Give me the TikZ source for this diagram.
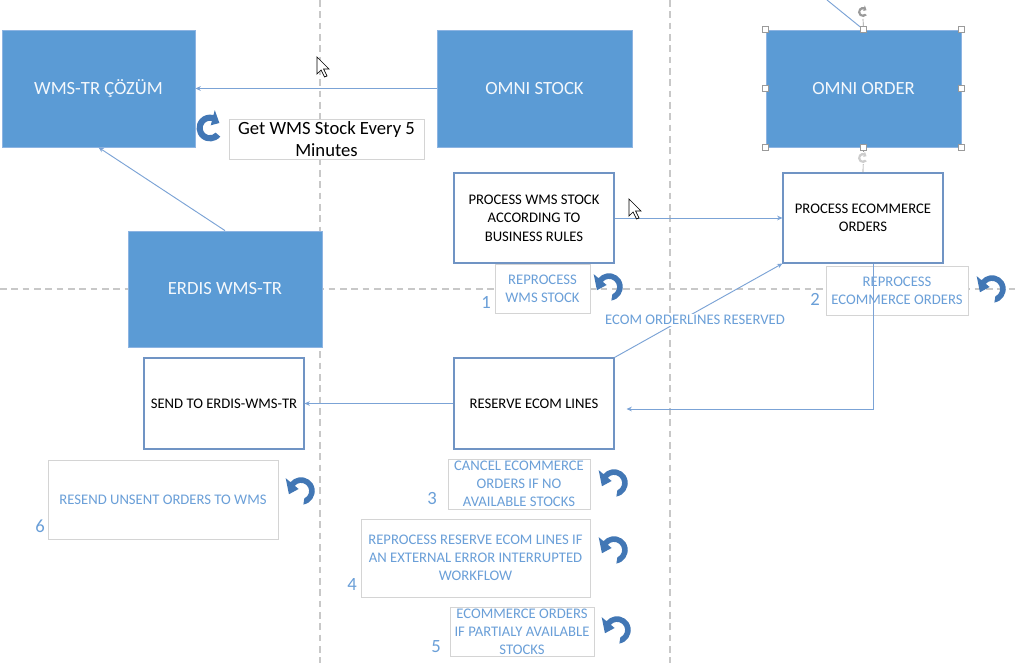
\documentclass[tikz,border=0pt]{standalone}
\usepackage{fontspec}
\setmainfont{Carlito}
\usetikzlibrary{arrows.meta,calc}
\definecolor{boxblue}{HTML}{5B9BD5}
\definecolor{boxedge}{HTML}{8DB4E2}
\definecolor{boxtext}{HTML}{F4F8FC}
\definecolor{procedge}{HTML}{7094C4}
\definecolor{lbledge}{HTML}{D4D4D4}
\definecolor{lblblue}{HTML}{6A9FD8}
\definecolor{linkblue}{HTML}{7BA3D6}
\definecolor{iconblue}{HTML}{4277B5}
\definecolor{guidegray}{HTML}{C8C8C8}
\definecolor{handlegray}{HTML}{9A9A9A}
\begin{document}
\begin{tikzpicture}[x=0.75pt,y=-0.75pt,
  fillbox/.style={draw=boxedge, fill=boxblue, text=boxtext, inner sep=0pt, line width=0.6pt, font=\fontsize{14}{16.8}\selectfont},
  procbox/.style={draw=procedge, fill=white, text=black, inner sep=0pt, line width=0.8pt, align=center, font=\fontsize{11}{13.8}\selectfont},
  lblbox/.style={draw=lbledge, fill=white, text=lblblue, inner sep=0pt, line width=0.7pt, align=center, font=\fontsize{11}{13.5}\selectfont},
  numtxt/.style={text=lblblue, inner sep=0pt, font=\fontsize{14}{16}\selectfont},
  link/.style={draw=linkblue, line width=0.7pt},
  arr/.style={-{Stealth[length=4pt,width=3.5pt]}},
  guide/.style={draw=guidegray, line width=1pt, dash pattern=on 5pt off 3.5pt},
  handlebox/.style={draw=handlegray, fill=white, minimum size=4.5pt, inner sep=0pt, line width=0.5pt},
  undo/.pic={\begin{scope}[yscale=-1,scale=1.25]
    \fill[iconblue] (-80:11) arc[start angle=-80,end angle=140,radius=11] -- (140:16) -- (195:10) -- (140:2.5) -- (140:6.5) arc[start angle=140,end angle=-66,radius=6.5] -- cycle;
  \end{scope}},
  cyc/.pic={\begin{scope}[yscale=-1]
    \fill (-40:12) arc[start angle=-40,end angle=-285,radius=12] -- (-285:16.5) -- (-332:9.5) -- (-285:2.5) -- (-285:6.5) arc[start angle=-285,end angle=-40,radius=6.5] -- cycle;
  \end{scope}}
]
\useasboundingbox (0,0) rectangle (1017,663);
\fill[white] (0,0) rectangle (1017,663);

% guides
\draw[guide] (320,0) -- (320,663);
\draw[guide] (670,0) -- (670,663);
\draw[guide] (0,289) -- (1017,289);

% main blue boxes
\node[fillbox, minimum width=144.75pt, minimum height=87.75pt] (wms) at (98.5,88.5) {WMS-TR ÇÖZÜM};
\node[fillbox, minimum width=146.25pt, minimum height=87.75pt] (ostock) at (534.5,88.5) {OMNI STOCK};
\node[fillbox, minimum width=146.25pt, minimum height=87.75pt] (oorder) at (863.5,88.5) {OMNI ORDER};
\node[fillbox, minimum width=145.5pt, minimum height=87pt] (erdis) at (225,289) {ERDIS WMS-TR};

% get wms stock note
\node[draw=lbledge, fill=white, text=black, inner sep=0pt, line width=0.7pt, align=center,
      font=\fontsize{14}{16.5}\selectfont, minimum width=146.25pt, minimum height=30pt] (getwms) at (326.5,139) {Get WMS Stock Every 5\\Minutes};
\pic[iconblue, scale=1.12] at (210,128) {cyc};

% process boxes
\node[procbox, minimum width=120pt, minimum height=67.5pt] (pwms) at (534,218) {PROCESS WMS STOCK\\ACCORDING TO\\BUSINESS RULES};
\node[procbox, minimum width=120pt, minimum height=67.5pt] (pecom) at (863,218) {PROCESS ECOMMERCE\\ORDERS};
\node[procbox, minimum width=120pt, minimum height=68.25pt] (reserve) at (534,403.5) {RESERVE ECOM LINES};
\node[procbox, minimum width=120pt, minimum height=68.25pt] (send) at (224,403.5) {SEND TO ERDIS-WMS-TR};

% label boxes
\node[lblbox, minimum width=71.25pt, minimum height=36.75pt] (r1) at (542.5,288.5) {REPROCESS\\WMS STOCK};
\node[lblbox, minimum width=106.5pt, minimum height=36.75pt] (r2) at (897,290.5) {REPROCESS\\ECOMMERCE ORDERS};
\node[lblbox, minimum width=106.5pt, minimum height=37.5pt] (r3) at (519,484) {CANCEL ECOMMERCE\\ORDERS IF NO\\AVAILABLE STOCKS};
\node[lblbox, minimum width=171.75pt, minimum height=58.5pt] (r4) at (475.5,558) {REPROCESS RESERVE ECOM LINES IF\\AN EXTERNAL ERROR INTERRUPTED\\WORKFLOW};
\node[lblbox, minimum width=108pt, minimum height=36.75pt] (r5) at (522,631.5) {ECOMMERCE ORDERS\\IF PARTIALY AVAILABLE\\STOCKS};
\node[lblbox, minimum width=172.5pt, minimum height=59.25pt] (r6) at (163,499.5) {RESEND UNSENT ORDERS TO WMS};

% numbers
\node[numtxt] (n1) at (486,302) {1};
\node[numtxt] (n2) at (815,299) {2};
\node[numtxt] (n3) at (432,499) {3};
\node[numtxt] (n4) at (352,585) {4};
\node[numtxt] (n5) at (436,647) {5};
\node[numtxt] (n6) at (40,526) {6};

% undo icons
\pic at (609,287) {undo};
\pic at (992,289) {undo};
\pic at (614,483) {undo};
\pic at (614,550) {undo};
\pic at (617,630) {undo};
\pic at (301,491) {undo};

% connectors
\draw[link, arr] (ostock.west) -- (wms.east);
\draw[link, arr] (erdis.north) -- (wms.south);
\draw[link, arr] (pwms.east) -- (pecom.west);
\draw[link, arr] (reserve.north east) -- (pecom.south west);
\draw[link, arr] ($(pecom.south)+(10,0)$) |- ($(reserve.east)+(12,5.5)$);
\draw[link, arr] (reserve.west) -- (send.east);
\coordinate (topfree) at (827,0);
\draw[link] (topfree) -- (oorder.north);
\node[fill=white, text=lblblue, inner sep=1pt, font=\fontsize{11}{13}\selectfont] (ecomlbl) at (695,320) {ECOM ORDERLINES RESERVED};

% selection handles of OMNI ORDER
\draw[handlegray, line width=0.5pt] (oorder.south) -- (pecom.north);
\fill[white] (863,158) circle (6);
\pic[handlegray!50, scale=0.42] at (863,158) {cyc};
\draw[handlegray, line width=0.5pt] (863,19) -- (oorder.north);
\pic[handlegray, scale=0.42] at (863,12) {cyc};
\foreach \a in {north west,north,north east,west,east,south west,south,south east}
  \node[handlebox] at (oorder.\a) {};

% mouse cursors
\draw[fill=white, line width=0.5pt] (317,57) -- ++(0,17) -- ++(4,-4) -- ++(3.5,7) -- ++(2.5,-1) -- ++(-3.5,-7) -- ++(5.5,0) -- cycle;
\draw[fill=white, line width=0.5pt] (629,199) -- ++(0,17) -- ++(4,-4) -- ++(3.5,7) -- ++(2.5,-1) -- ++(-3.5,-7) -- ++(5.5,0) -- cycle;
\end{tikzpicture}
\end{document}
